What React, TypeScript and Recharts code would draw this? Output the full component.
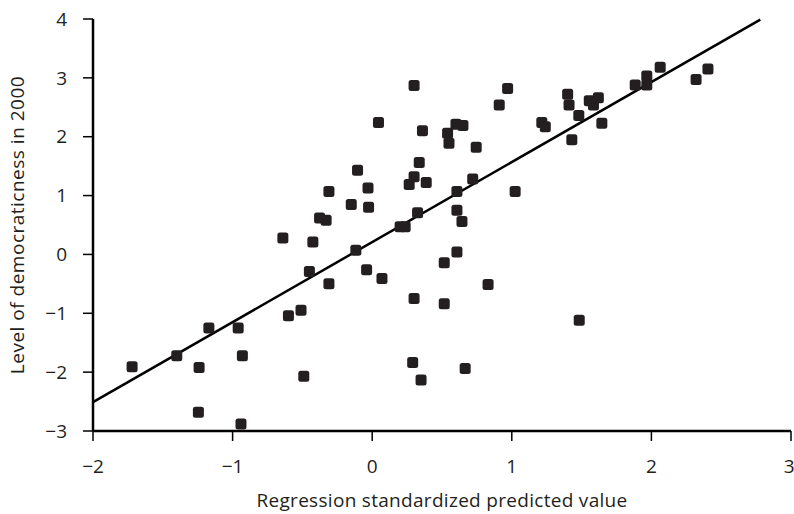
import React from 'react';
import { ScatterChart, Scatter, XAxis, YAxis, ReferenceLine, Label } from 'recharts';

const predictedValues: number[] = [
  -1.72, -1.40, -1.17, -1.24, -1.245, -0.96, -0.93, -0.94, -0.64, -0.60,
  -0.51, -0.49, -0.45, -0.425, -0.377, -0.33, -0.31, -0.31, -0.15, -0.105,
  -0.117, -0.04, -0.026, -0.03, 0.045, 0.07, 0.30, 0.97, 0.91, 1.40,
  1.41, 1.48, 1.555, 1.585, 1.62, 1.645, 0.36, 0.60, 0.65, 0.54,
  0.55, 0.745, 1.215, 1.24, 1.43, 0.337, 0.30, 0.265, 0.387, 0.72,
  1.024, 0.607, 0.325, 0.607, 0.20, 0.236, 0.643, 0.607, 0.516, 0.83,
  0.30, 0.516, 1.483, 0.29, 0.35, 0.666, 1.884, 1.967, 1.967, 2.063,
  2.32, 2.405,
];

const democracyLevels: number[] = [
  -1.91, -1.72, -1.25, -1.92, -2.68, -1.25, -1.72, -2.88, 0.28, -1.04,
  -0.95, -2.07, -0.29, 0.21, 0.62, 0.58, 1.07, -0.50, 0.85, 1.43,
  0.07, -0.26, 0.80, 1.13, 2.24, -0.41, 2.87, 2.82, 2.54, 2.72,
  2.54, 2.36, 2.61, 2.54, 2.66, 2.23, 2.10, 2.21, 2.19, 2.06,
  1.89, 1.82, 2.24, 2.17, 1.95, 1.56, 1.32, 1.19, 1.22, 1.28,
  1.07, 1.07, 0.71, 0.75, 0.47, 0.47, 0.56, 0.04, -0.14, -0.51,
  -0.75, -0.84, -1.12, -1.835, -2.135, -1.94, 2.88, 3.03, 2.88, 3.18,
  2.97, 3.15,
];

const xTicks: number[] = [-2, -1, 0, 1, 2, 3];
const yTicks: number[] = [-3, -2, -1, 0, 1, 2, 3, 4];

const fitLineX: number[] = [-2, 2.78];
const fitLineY: number[] = [-2.51, 3.99];

const xTitle = 'Regression standardized predicted value';
const yTitle = 'Level of democraticness in 2000';

const points = predictedValues.map((x, i) => ({ x, y: democracyLevels[i] }));

const FONT = '"Open Sans", Roboto, sans-serif';
const INK = '#231f20';

const fmt = (v: number) => String(v).replace('-', '\u2212');

const SquareMarker = (props: any) => {
  const { cx, cy } = props;
  if (cx == null || cy == null) return null;
  const s = 11;
  return <rect x={cx - s / 2} y={cy - s / 2} width={s} height={s} rx={2.5} ry={2.5} fill={INK} />;
};

const YTitle = (props: any) => {
  const vb = props.viewBox || {};
  const x = (vb.x ?? 0) + 17;
  const y = (vb.y ?? 0) + (vb.height ?? 0) / 2;
  return (
    <text
      x={x}
      y={y}
      transform={`rotate(-90, ${x}, ${y})`}
      textAnchor="middle"
      dominantBaseline="central"
      fontFamily={FONT}
      fontSize={19}
      letterSpacing={0.5}
      fill={INK}
    >
      {yTitle}
    </text>
  );
};

const XTitle = (props: any) => {
  const vb = props.viewBox || {};
  const x = (vb.x ?? 0) + (vb.width ?? 0) / 2;
  const y = (vb.y ?? 0) + 76;
  return (
    <text x={x} y={y} textAnchor="middle" fontFamily={FONT} fontSize={19} letterSpacing={0.3} fill={INK}>
      {xTitle}
    </text>
  );
};

export default function App() {
  return (
    <div style={{ position: 'absolute', left: 0, top: 0, width: 794, height: 514, background: '#fff' }}>
      <ScatterChart width={794} height={514} margin={{ top: 19, right: 3, bottom: 0, left: 0 }}>
        <XAxis
          type="number"
          dataKey="x"
          domain={[-2, 3]}
          ticks={xTicks}
          tickFormatter={fmt}
          height={83}
          axisLine={{ stroke: '#000', strokeWidth: 2.5 }}
          tickLine={{ stroke: '#000', strokeWidth: 1.5 }}
          tickSize={10}
          tickMargin={19}
          tick={{ fontFamily: FONT, fontSize: 19, fill: INK }}
          allowDataOverflow
        >
          <Label content={<XTitle />} />
        </XAxis>
        <YAxis
          type="number"
          dataKey="y"
          domain={[-3, 4]}
          ticks={yTicks}
          tickFormatter={fmt}
          width={93}
          axisLine={{ stroke: '#000', strokeWidth: 2.5 }}
          tickLine={{ stroke: '#000', strokeWidth: 1.5 }}
          tickSize={10}
          tickMargin={16}
          tick={{ fontFamily: FONT, fontSize: 19, fill: INK }}
          allowDataOverflow
        >
          <Label content={<YTitle />} />
        </YAxis>
        <ReferenceLine
          segment={[
            { x: fitLineX[0], y: fitLineY[0] },
            { x: fitLineX[1], y: fitLineY[1] },
          ]}
          stroke="#000"
          strokeWidth={2.5}
          ifOverflow="visible"
        />
        <Scatter data={points} shape={<SquareMarker />} isAnimationActive={false} />
      </ScatterChart>
    </div>
  );
}
